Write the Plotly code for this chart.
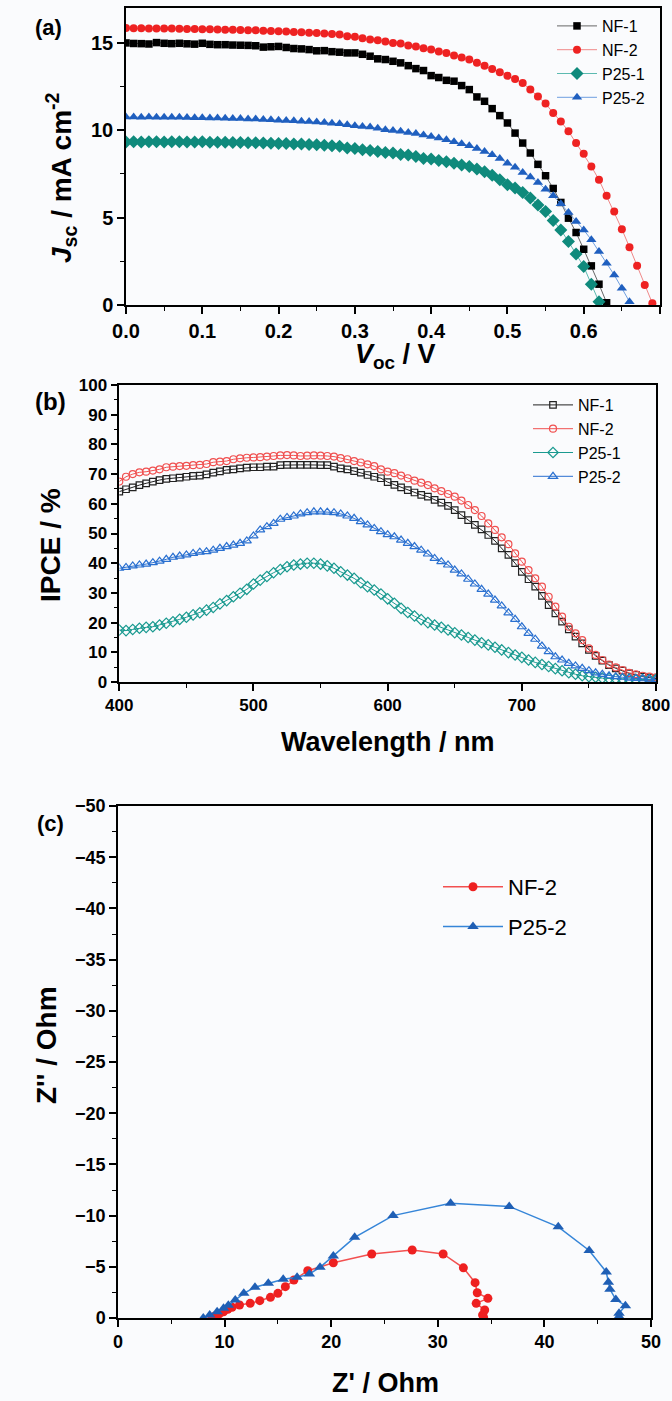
import plotly.graph_objects as go

# ---------------- data ----------------
V = [0.00, 0.01, 0.02, 0.03, 0.04, 0.05, 0.06, 0.07, 0.08, 0.09,
     0.10, 0.11, 0.12, 0.13, 0.14, 0.15, 0.16, 0.17, 0.18, 0.19,
     0.20, 0.21, 0.22, 0.23, 0.24, 0.25, 0.26, 0.27, 0.28, 0.29,
     0.30, 0.31, 0.32, 0.33, 0.34, 0.35, 0.36, 0.37, 0.38, 0.39,
     0.40, 0.41, 0.42, 0.43, 0.44, 0.45, 0.46, 0.47, 0.48, 0.49,
     0.50, 0.51, 0.52, 0.53, 0.54, 0.55, 0.56, 0.57, 0.58, 0.59,
     0.60, 0.61, 0.62, 0.63, 0.64, 0.65, 0.66, 0.67, 0.68, 0.69]

J_NF1 = [15.00, 14.97, 14.96, 14.94, 15.02, 14.98, 14.96, 14.98, 14.95, 14.93,
         14.98, 14.92, 14.90, 14.90, 14.88, 14.87, 14.86, 14.84, 14.76, 14.78,
         14.80, 14.74, 14.68, 14.66, 14.62, 14.55, 14.56, 14.50,
         14.47, 14.43, 14.43, 14.35, 14.24, 14.09, 14.05, 13.95, 13.86, 13.70,
         13.53, 13.42, 13.13, 13.02, 12.86, 12.81, 12.56, 12.33, 11.91, 11.66,
         11.24, 10.84, 10.42, 9.84, 9.27, 8.70, 8.05, 7.40, 6.67, 5.87,
         4.97, 4.15, 3.19, 2.24, 1.19, 0.13]
J_NF2 = [15.85, 15.84, 15.84, 15.83, 15.83, 15.82, 15.82, 15.81, 15.80, 15.80,
         15.79, 15.78, 15.77, 15.76, 15.75, 15.74, 15.73, 15.72, 15.70, 15.69,
         15.67, 15.65, 15.63, 15.61, 15.59, 15.57, 15.54, 15.51,
         15.48, 15.39, 15.35, 15.27, 15.19, 15.16, 15.08, 15.00, 14.97, 14.85,
         14.79, 14.70, 14.62, 14.51, 14.43, 14.28, 14.16, 14.05, 13.86, 13.70,
         13.51, 13.32, 13.12, 12.94, 12.71, 12.33, 11.94, 11.53, 10.99, 10.51,
         9.94, 9.27, 8.66, 7.93, 7.17, 6.25, 5.35, 4.34, 3.31, 2.24, 1.15, 0.10]
J_P251 = [9.33, 9.34, 9.33, 9.35, 9.34, 9.33, 9.35, 9.34, 9.33, 9.33,
          9.34, 9.32, 9.31, 9.31, 9.30, 9.30, 9.29, 9.28, 9.27, 9.26,
          9.25, 9.24, 9.22, 9.21, 9.19, 9.17, 9.14, 9.11,
          9.08, 8.98, 8.96, 8.89, 8.85, 8.79, 8.73, 8.70, 8.62, 8.58,
          8.50, 8.39, 8.35, 8.27, 8.20, 8.12, 8.01, 7.93, 7.78, 7.63,
          7.43, 7.17, 6.88, 6.69, 6.44, 6.12, 5.73, 5.35, 4.83, 4.30,
          3.63, 2.92, 2.20, 1.19, 0.19]
J_P252 = [10.76, 10.76, 10.75, 10.76, 10.75, 10.74, 10.75, 10.74, 10.73, 10.72,
          10.72, 10.71, 10.70, 10.69, 10.68, 10.67, 10.65, 10.64, 10.62, 10.60,
          10.58, 10.56, 10.54, 10.52, 10.50, 10.47, 10.44, 10.41,
          10.38, 10.32, 10.26, 10.22, 10.19, 10.11, 10.03, 9.99, 9.94, 9.88,
          9.81, 9.73, 9.65, 9.56, 9.46, 9.35, 9.23, 9.12, 8.96, 8.79,
          8.60, 8.39, 8.12, 7.88, 7.59, 7.32, 7.01, 6.63, 6.25, 5.79,
          5.29, 4.78, 4.30, 3.73, 3.06, 2.39, 1.72, 0.96, 0.19]

WL = [400, 405, 410, 415, 420, 425, 430, 435, 440, 445,
      450, 455, 460, 465, 470, 475, 480, 485, 490, 495,
      500, 505, 510, 515, 520, 525, 530, 535, 540, 545,
      550, 555, 560, 565, 570, 575, 580, 585, 590, 595,
      600, 605, 610, 615, 620, 625, 630, 635, 640, 645,
      650, 655, 660, 665, 670, 675, 680, 685, 690, 695,
      700, 705, 710, 715, 720, 725, 730, 735, 740, 745,
      750, 755, 760, 765, 770, 775, 780, 785, 790, 795, 800]

IPCE_NF1 = [64.1, 64.9, 65.5, 66.3, 66.9, 67.5, 68.0, 68.4, 68.6, 68.8,
            69.1, 69.4, 69.5, 69.9, 70.5, 70.9, 71.4, 71.6, 71.9, 72.2,
            72.3, 72.3, 72.5, 72.5, 73.0, 73.1, 73.1, 73.1, 73.1, 73.1,
            73.0, 73.0, 72.5, 71.9, 71.6, 71.0, 70.5, 69.7, 69.1, 68.6,
            67.3, 66.4, 65.5, 64.6, 63.8, 63.0, 62.4, 61.3, 60.4, 59.3,
            57.9, 56.2, 54.5, 52.9, 51.4, 49.5, 47.5, 45.0, 42.8, 40.0,
            37.1, 34.6, 32.1, 29.0, 25.9, 23.1, 20.3, 17.7, 15.3, 13.0,
            10.8, 8.8, 7.2, 5.7, 4.6, 3.8, 2.9, 2.4, 1.8, 1.5, 1.2]
IPCE_NF2 = [67.5, 69.1, 70.0, 70.6, 70.8, 71.2, 71.6, 72.3, 72.5, 72.7,
            72.8, 73.0, 73.1, 73.4, 74.0, 74.2, 74.4, 75.0, 75.3, 75.5,
            75.6, 75.7, 75.9, 76.1, 76.3, 76.4, 76.3, 76.1, 76.2, 76.3,
            76.2, 76.1, 75.9, 75.4, 75.0, 74.4, 73.9, 73.3, 72.7, 71.6,
            70.8, 70.3, 69.5, 68.6, 67.8, 67.1, 66.3, 65.2, 64.3, 63.3,
            62.4, 61.1, 59.6, 57.9, 55.9, 53.4, 51.2, 48.7, 46.4, 43.3,
            40.5, 37.7, 34.9, 32.1, 28.7, 25.4, 22.0, 18.6, 16.4, 14.1,
            11.3, 9.1, 7.4, 5.9, 4.9, 4.0, 3.1, 2.6, 2.1, 1.8, 1.6]
IPCE_P251 = [17.5, 17.3, 17.7, 18.1, 18.4, 18.6, 19.2, 19.8, 20.3, 21.1,
             21.8, 22.6, 23.3, 24.2, 25.1, 26.3, 27.4, 28.7, 29.9, 31.2,
             33.0, 34.3, 35.5, 36.8, 37.9, 38.8, 39.4, 39.7, 40.0, 40.0,
             39.7, 39.1, 38.3, 37.1, 36.0, 34.9, 33.4, 32.1, 31.0, 29.6,
             28.0, 26.5, 24.8, 23.4, 22.2, 21.0, 20.0, 19.2, 18.4, 17.5,
             16.6, 15.8, 15.0, 14.1, 13.2, 12.5, 11.7, 10.8, 9.9, 9.1,
             8.3, 7.4, 6.6, 5.9, 5.2, 4.5, 3.8, 3.1, 2.6, 2.1,
             1.8, 1.6, 1.3, 1.2, 1.1, 1.0, 1.0, 0.8, 0.8, 0.8, 0.8]
IPCE_P252 = [38.3, 38.6, 39.1, 39.4, 39.7, 40.2, 40.7, 41.3, 42.0, 42.4,
             42.8, 43.3, 43.7, 43.9, 44.4, 45.0, 45.6, 46.1, 46.7, 47.5,
             49.2, 51.2, 52.3, 53.4, 54.8, 55.4, 55.9, 56.6, 57.0, 57.3,
             57.3, 57.2, 57.0, 56.6, 55.9, 55.1, 54.0, 52.9, 51.7, 50.6,
             49.6, 48.9, 47.8, 46.7, 45.6, 44.4, 43.1, 41.6, 40.5, 39.4,
             37.7, 36.4, 34.6, 33.0, 31.2, 29.6, 27.6, 25.6, 23.3, 21.1,
             18.6, 16.4, 14.4, 12.1, 10.2, 8.5, 7.4, 6.3, 5.4, 4.6,
             3.8, 3.1, 2.6, 2.1, 1.8, 1.6, 1.3, 1.2, 1.1, 1.0, 0.8]

ZRE_NF2 = [8.8, 9.1, 9.5, 9.9, 10.3, 10.7, 11.4, 12.4, 13.3, 14.3, 15.0, 15.7, 16.5,
           17.8, 20.2, 23.8, 27.6, 30.5, 32.4, 33.5, 33.7, 34.7, 33.6, 34.4, 34.2, 34.3]
ZIM_NF2 = [0.0, -0.2, -0.4, -0.6, -0.85, -1.05, -1.27, -1.43, -1.69, -2.02, -2.41, -3.06, -3.71,
           -4.62, -5.40, -6.25, -6.64, -6.25, -4.9, -3.45, -2.47, -1.92, -1.43, -0.78, -0.29, -0.05]
ZRE_P252 = [8.0, 8.6, 9.3, 9.9, 10.35, 11.0, 11.8, 12.85, 14.1, 15.5, 16.8, 17.95, 18.95,
            20.2, 22.2, 25.8, 31.2, 36.7, 41.3, 44.2, 45.8, 46.0, 46.15, 46.7, 47.6, 47.0, 47.0]
ZIM_P252 = [0.0, -0.29, -0.62, -0.94, -1.24, -1.76, -2.41, -3.0, -3.39, -3.78, -3.97, -4.30, -4.95,
            -6.05, -7.88, -10.0, -11.2, -10.9, -8.9, -6.6, -4.5, -3.5, -2.8, -1.8, -1.2, -0.46, -0.15]

# ---------------- helpers ----------------
W, H = 672, 1401
def px(x):
    return x / W
def py(y):
    return 1 - y / H

BG = "#fafbfd"
FONT = "Liberation Sans"
NARROW = "Liberation Sans Narrow, Liberation Sans"

fig = go.Figure()

# ---------- panel (a) ----------
def add_a(x, y, name, color, lcolor, symbol, size):
    fig.add_trace(go.Scatter(
        x=x[:len(y)], y=y, name=name, mode="lines+markers",
        line=dict(color=lcolor, width=1),
        marker=dict(symbol=symbol, size=size, color=color, line=dict(width=0)),
        xaxis="x", yaxis="y", legend="legend"))

add_a(V, J_NF1, "NF-1", "#000000", "#666666", "square", 7.5)
add_a(V, J_NF2, "NF-2", "#ee2222", "#f08888", "circle", 8)
add_a(V, J_P251, "P25-1", "#0f8a7c", "#5cbab0", "diamond", 10)
add_a(V, J_P252, "P25-2", "#1f5fbf", "#6f9fe0", "triangle-up", 9)

# ---------- panel (b) ----------
def add_b(y, name, color, symbol, size):
    fig.add_trace(go.Scatter(
        x=WL, y=y, name=name, mode="lines+markers",
        line=dict(color=color, width=1),
        marker=dict(symbol=symbol, size=size, color=color, line=dict(width=1.2, color=color)),
        xaxis="x2", yaxis="y2", legend="legend2"))

add_b(IPCE_NF1, "NF-1", "#222222", "square-open", 6.5)
add_b(IPCE_NF2, "NF-2", "#f05050", "circle-open", 7)
add_b(IPCE_P251, "P25-1", "#1a9a90", "diamond-open", 8)
add_b(IPCE_P252, "P25-2", "#2a70d0", "triangle-up-open", 8)

# ---------- panel (c) ----------
fig.add_trace(go.Scatter(
    x=ZRE_NF2, y=ZIM_NF2, name="NF-2", mode="lines+markers",
    line=dict(color="#f25050", width=1.5),
    marker=dict(symbol="circle", size=9, color="#ee2020"),
    xaxis="x3", yaxis="y3", legend="legend3", legendgroup="g1"))
fig.add_trace(go.Scatter(
    x=ZRE_P252, y=ZIM_P252, name="P25-2", mode="lines+markers",
    line=dict(color="#3585d8", width=1.5),
    marker=dict(symbol="triangle-up", size=10, color="#1f5fb5"),
    xaxis="x3", yaxis="y3", legend="legend3", legendgroup="g2"))

# ---------- axes ----------
def axis(domain, anchor, rng, dtick, minor_dtick, tickfont_size, family, fmt=None):
    d = dict(domain=domain, anchor=anchor, range=rng, dtick=dtick, tick0=0,
             automargin=False,
             showgrid=False, zeroline=False, showline=True, linecolor="black",
             linewidth=1.5, mirror=True, ticks="outside", ticklen=7, tickwidth=1.5,
             tickcolor="black",
             minor=dict(ticks="outside", ticklen=4, tickwidth=1.2, dtick=minor_dtick,
                        tickcolor="black", showgrid=False),
             tickfont=dict(family=family, size=tickfont_size, color="black", weight="bold"))
    if fmt:
        d["tickformat"] = fmt
    return d

layout = dict(
    width=W, height=H, margin=dict(l=0, r=0, t=0, b=0, autoexpand=False),
    paper_bgcolor=BG, plot_bgcolor=BG, showlegend=True,
    xaxis=axis([px(126), px(660)], "y", [0, 0.7], 0.1, 0.05, 20, FONT, ".1f"),
    yaxis=axis([py(305), py(8)], "x", [0, 17], 5, 2.5, 20, FONT),
    xaxis2=axis([px(119.3), px(656)], "y2", [400, 800], 100, 50, 17, NARROW),
    yaxis2=axis([py(682), py(385)], "x2", [0, 100], 10, 5, 17, NARROW),
    xaxis3=axis([px(118), px(651)], "y3", [0, 50], 10, 5, 18, NARROW),
    yaxis3=axis([py(1318), py(806)], "x3", [0, -50], 5, 2.5, 18, NARROW),
    legend=dict(x=px(552), y=py(9), xanchor="left", yanchor="top",
                bgcolor="rgba(0,0,0,0)", itemwidth=40,
                font=dict(family=FONT, size=16, color="black")),
    legend2=dict(x=px(528), y=py(388), xanchor="left", yanchor="top",
                 bgcolor="rgba(0,0,0,0)", itemwidth=40,
                 font=dict(family=FONT, size=16, color="black")),
    legend3=dict(x=px(438), y=py(866), xanchor="left", yanchor="top",
                 bgcolor="rgba(0,0,0,0)", itemwidth=60, traceorder="grouped",
                 tracegroupgap=8,
                 font=dict(family=FONT, size=22, color="black")),
)
fig.update_layout(**layout)

# ---------- titles & labels as annotations ----------
def ann(text, x, y, size, angle=0, family=FONT, bold=True):
    fig.add_annotation(text=text, x=px(x), y=py(y), xref="paper", yref="paper",
                       showarrow=False, textangle=angle, xanchor="center", yanchor="middle",
                       font=dict(family=family, size=size, color="black",
                                 weight="bold" if bold else "normal"))

ann("(a)", 48, 28, 22)
ann("(b)", 50, 402, 24)
ann("(c)", 50, 823, 22, family=NARROW)
ann("<i>J</i><sub>sc</sub> / mA cm<sup>-2</sup>", 61, 178, 28, angle=-90)
ann("<i>V</i><sub>oc</sub> / V", 395, 356, 27)
ann("IPCE / %", 50, 545, 28, angle=-90)
ann("Wavelength / nm", 388, 742, 27)
ann("Z'' / Ohm", 46, 1045, 28, angle=-90)
ann("Z' / Ohm", 385, 1383, 27)

fig.write_html("out.html", config={"displayModeBar": False},
               post_script="document.body.style.margin='0';document.body.style.overflow='hidden';")
